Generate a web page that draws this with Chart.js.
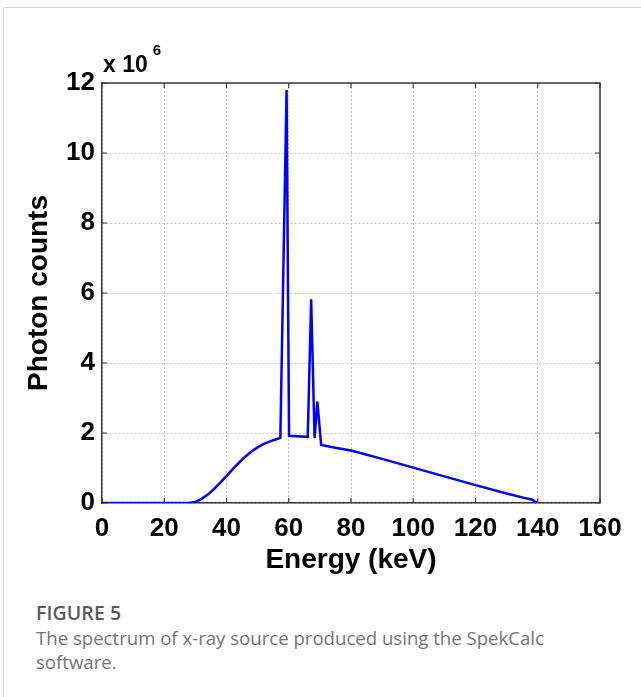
<!DOCTYPE html>
<html>
<head>
<meta charset="utf-8">
<script src="https://cdn.jsdelivr.net/npm/chart.js@4.4.1/dist/chart.umd.min.js"></script>
<style>
  html, body { margin: 0; padding: 0; background: #fff; }
  body { width: 641px; height: 697px; position: relative; overflow: hidden; }
  .card { position: absolute; left: 3px; top: 7px; width: 700px; height: 760px;
          border-top: 1px solid #d4d4d4; border-left: 1px solid #d4d4d4; }
  .wrap { position: absolute; left: 0; top: 0; width: 641px; height: 590px; }
  .fig { position: absolute; left: 36px; top: 601px; font-family: "Open Sans", sans-serif;
         font-weight: 600; font-size: 19.5px; letter-spacing: 0.1px; color: #5a5a5a; line-height: 24px; }
  .cap { position: absolute; left: 36px; top: 626px; width: 540px; font-family: "Open Sans", sans-serif;
         font-weight: 400; font-size: 18.6px; color: #757575; line-height: 23.5px; }
</style>
</head>
<body>
<div class="card"></div>
<div class="wrap"><canvas id="spectrum" width="641" height="590"></canvas></div>
<div class="fig">FIGURE 5</div>
<div class="cap">The spectrum of x-ray source produced using the SpekCalc software.</div>
<script>
// energy in keV, counts in units of 1e6 (axis shows "x 10^6")
const energyKeV = [0, 10, 20, 28, 30, 32, 34, 36, 38, 40, 42, 44, 46, 48, 50, 52, 54, 56, 57.3,
  59.3, 60.1, 66.1, 67.2, 68.3, 69.2, 70.4, 75, 80, 90, 100, 110, 120, 130, 136, 138, 140];
const countsMillions = [0, 0, 0, 0, 0.03, 0.12, 0.24, 0.40, 0.58, 0.77, 0.97, 1.15, 1.32, 1.47, 1.59, 1.69, 1.76, 1.82, 1.86,
  11.8, 1.92, 1.89, 5.82, 1.85, 2.9, 1.66, 1.58, 1.5, 1.26, 1.01, 0.76, 0.51, 0.27, 0.14, 0.1, 0];
const xTicks = [0, 20, 40, 60, 80, 100, 120, 140, 160];
const yTicks = [0, 2, 4, 6, 8, 10, 12];

const axisFont = 'Liberation Sans, Arial, sans-serif';

// MATLAB style box: solid top/right edges, inward ticks, exponent label
const boxPlugin = {
  id: 'box',
  afterDraw(chart) {
    const { ctx, chartArea: a, scales: { x, y } } = chart;
    ctx.save();
    ctx.strokeStyle = '#3a3a3a';
    ctx.lineWidth = 1.5;
    ctx.beginPath();
    ctx.moveTo(a.left, a.top); ctx.lineTo(a.right, a.top); ctx.lineTo(a.right, a.bottom);
    ctx.stroke();
    ctx.lineWidth = 1.2;
    ctx.beginPath();
    xTicks.forEach((v) => {
      const px = x.getPixelForValue(v);
      ctx.moveTo(px, a.bottom); ctx.lineTo(px, a.bottom - 5);
      ctx.moveTo(px, a.top); ctx.lineTo(px, a.top + 5);
    });
    yTicks.forEach((v) => {
      const py = y.getPixelForValue(v);
      ctx.moveTo(a.left, py); ctx.lineTo(a.left + 5, py);
      ctx.moveTo(a.right, py); ctx.lineTo(a.right - 5, py);
    });
    ctx.stroke();
    ctx.fillStyle = '#000';
    ctx.textBaseline = 'alphabetic';
    ctx.font = 'bold 23px ' + axisFont;
    ctx.fillText('x 10', a.left + 1, a.top - 11);
    const w = ctx.measureText('x 10').width;
    ctx.font = 'bold 15px ' + axisFont;
    ctx.fillText('6', a.left + 1 + w + 5, a.top - 28);
    ctx.restore();
  },
};

new Chart(document.getElementById('spectrum'), {
  type: 'line',
  data: {
    datasets: [{
      label: 'Spectrum',
      data: energyKeV.map((e, i) => ({ x: e, y: countsMillions[i] })),
      borderColor: '#0000ff',
      borderWidth: 2.5,
      pointRadius: 0,
      tension: 0,
      fill: false,
    }],
  },
  options: {
    responsive: false,
    animation: false,
    layout: { padding: { left: 22, top: 83, right: 41, bottom: 0 } },
    plugins: { legend: { display: false }, tooltip: { enabled: false } },
    scales: {
      x: {
        type: 'linear',
        min: 0,
        max: 160,
        afterBuildTicks: (s) => { s.ticks = xTicks.map((v) => ({ value: v })); },
        afterFit: (s) => { s.height = 87; },
        grid: { color: '#c4c4c4', drawTicks: false },
        border: { display: true, color: '#3a3a3a', width: 1.5, dash: [2, 2] },
        ticks: { color: '#000', padding: 10, maxRotation: 0, font: { family: axisFont, size: 26, weight: 'bold' } },
        title: { display: true, text: 'Energy (keV)', color: '#000', padding: { top: 0, bottom: 13 },
                 font: { family: axisFont, size: 28, weight: 'bold' } },
      },
      y: {
        min: 0,
        max: 12,
        afterBuildTicks: (s) => { s.ticks = yTicks.map((v) => ({ value: v })); },
        afterFit: (s) => { s.width = 80; },
        grid: { color: '#c4c4c4', drawTicks: false },
        border: { display: true, color: '#3a3a3a', width: 1.5, dash: [2, 2] },
        ticks: { color: '#000', padding: 7, font: { family: axisFont, size: 26, weight: 'bold' } },
        title: { display: true, text: 'Photon counts', color: '#000', padding: { top: 0, bottom: 0 },
                 font: { family: axisFont, size: 28, weight: 'bold' } },
      },
    },
  },
  plugins: [boxPlugin],
});
</script>
</body>
</html>
